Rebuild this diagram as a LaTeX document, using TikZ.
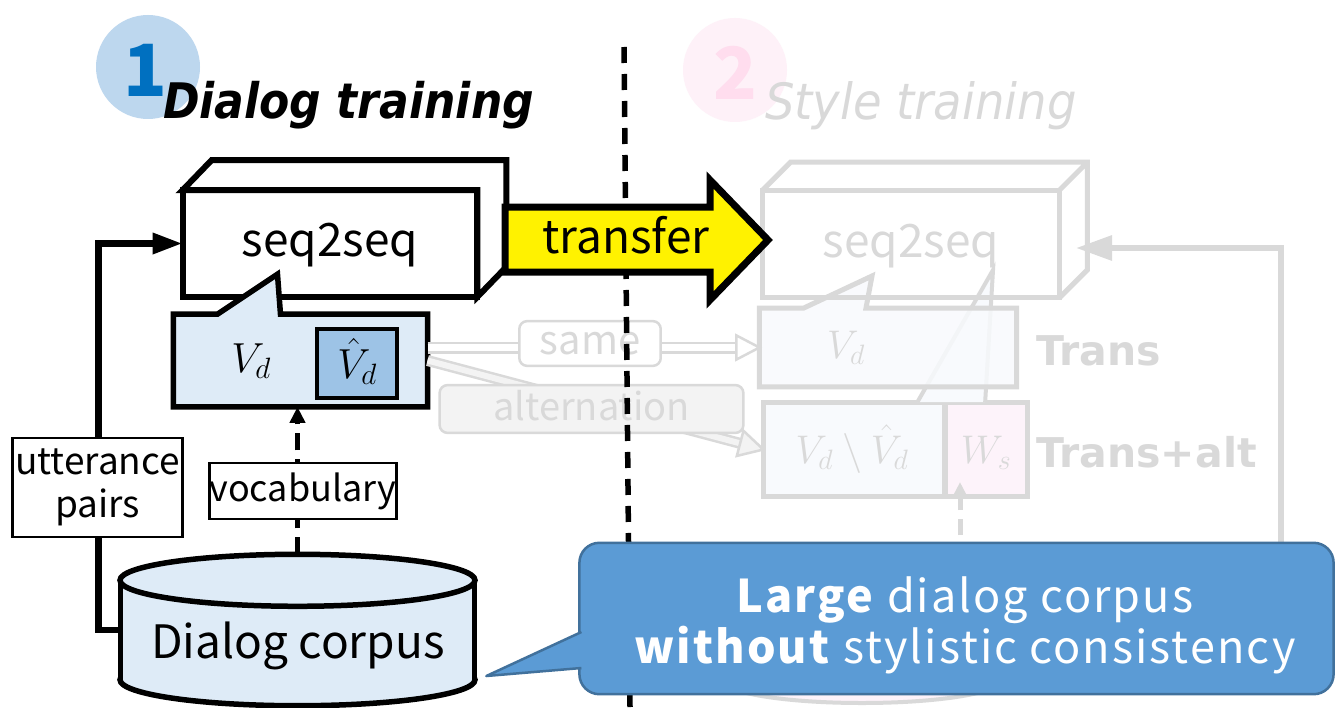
\RequirePackage{fix-cm}
\documentclass[tikz,border=0pt]{standalone}
\usepackage{fontspec}
\usetikzlibrary{arrows.meta,calc}

\newfontfamily\jpf{Noto Sans CJK JP}
\newfontfamily\jpwide[LetterSpace=4.5]{Noto Sans CJK JP}
\newfontfamily\ttl[FakeStretch=0.9]{DejaVu Sans}
\newfontfamily\ttlb[FakeStretch=0.93]{DejaVu Sans}
\newfontfamily\dvs{DejaVu Sans}
\newcommand\fsz[1]{\fontsize{#1bp}{#1bp}\selectfont}
\newcommand\fszskip[2]{\fontsize{#1bp}{#2bp}\selectfont}

\definecolor{lblue}{HTML}{DEEBF7}
\definecolor{mblue}{HTML}{9DC3E6}
\definecolor{cblue}{HTML}{BDD7EE}
\definecolor{dblue}{HTML}{0070C0}
\definecolor{fade}{HTML}{D9D9D9}
\definecolor{fadeblue}{HTML}{F8FAFD}
\definecolor{fadepink}{HTML}{FDF3FA}
\definecolor{pinkc}{HTML}{FEF1F8}
\definecolor{pinkd}{HTML}{FFDDEE}
\definecolor{callfill}{HTML}{5B9BD5}
\definecolor{calledge}{HTML}{41719C}
\definecolor{altfill}{HTML}{F3F3F3}

\tikzset{
  hole/.style={inner sep=0pt, outer sep=0pt},
  txt/.style={inner sep=0pt, outer sep=0pt},
  frontbox/.style={draw=black, line width=6bp, fill=white, inner sep=0pt, outer sep=0pt,
    font=\jpf\fsz{46}, text height=35bp, text depth=9bp},
  gfront/.style={draw=fade, line width=5bp, inner sep=0pt, outer sep=0pt, text=fade,
    font=\jpf\fsz{46}, text height=35bp, text depth=9bp},
  lab/.style={draw=black, line width=2.5bp, fill=white, inner sep=0pt, outer sep=0pt,
    font=\jpf\fsz{36}, text height=28bp, text depth=7bp},
  glab/.style={draw=fade, line width=2.5bp, rounded corners=8bp, inner sep=0pt, outer sep=0pt,
    text=fade, text height=30bp, text depth=8bp},
  gline/.style={draw=fade, line width=6bp},
  gedge/.style={draw=fade, line width=5bp},
  bedge/.style={draw=black, line width=5.5bp},
}

\begin{document}
\begin{tikzpicture}[x=1bp, y=-1bp, line join=miter]
\useasboundingbox (0,0) rectangle (1337,707);
\fill[white] (0,0) rectangle (1337,707);

% ---------- headings ----------
\fill[cblue] (148,67) circle[radius=52];
\node[txt, anchor=base, font=\jpf\bfseries\fsz{72}, text=dblue] (numone) at (145,97) {1};
\node[txt, anchor=base west, font=\ttl\bfseries\itshape\fsz{49}] (headone) at (163,119) {Dialog training};

\fill[pinkc] (735,70) circle[radius=52];
\node[txt, anchor=base, font=\jpf\bfseries\fsz{72}, text=pinkd] (numtwo) at (735,100) {2};
\node[txt, anchor=base west, font=\ttlb\itshape\fsz{50}, text=fade] (headtwo) at (765,120) {Style training};

% ---------- style training side (faded) ----------
% hidden style corpus, only its lower rim shows
\filldraw[gedge, line width=4bp, fill=fadepink] (862,680) ellipse[x radius=140, y radius=23];

% Trans+alt vocabulary
\node[hole, draw=fade, line width=5bp, fill=fadeblue, minimum width=182, minimum height=95] (vdiff) at (854,449.5) {};
\node[hole, draw=fade, line width=5bp, fill=fadepink, minimum width=83, minimum height=95] (ws) at (986.5,449.5) {};
\filldraw[gedge, line width=4bp, fill=fadeblue] ($(vdiff.north west)+(154,0)$) -- (993,270) -- ($(ws.north west)+(40,0)$);
\node[txt, anchor=base, text=fade, font=\fsz{40}] (vdifftxt) at (852,463) {$V_d\setminus\hat{V}_d$};
\node[txt, anchor=base, text=fade, font=\fsz{40}] (wstxt) at (986,463) {$W_s$};

% Trans vocabulary (callout)
\node[hole, minimum width=258, minimum height=79] (trans) at (888,347.5) {};
\filldraw[gedge, fill=fadeblue, fill opacity=0.85] (trans.north west) -- ++(44,0) -- (872,276) -- ++(-6,32)
  -- (trans.north east) -- (trans.south east) -- (trans.south west) -- cycle;
\node[txt, anchor=base, text=fade, font=\fsz{40}] (transtxt) at (846,358) {$V_d$};

\node[txt, anchor=base west, text=fade, font=\dvs\bfseries\fsz{41}] (tlab) at (1036,365) {Trans};
\node[txt, anchor=base west, text=fade, font=\dvs\bfseries\fsz{41}] (talab) at (1036,467) {Trans+alt};

% faded seq2seq box
\node[gfront, minimum width=298, minimum height=108] (s2sB) at (911,244) {seq2seq};
\draw[gedge] (s2sB.north west) -- ++(28,-28) -- ($(s2sB.north east)+(28,-28)$) -- ($(s2sB.south east)+(28,-28)$)
  -- (s2sB.south east) (s2sB.north east) -- ++(28,-28);

% feedback from the style corpus
\coordinate (fbstart) at (1281,600);
\coordinate (fbend) at (1076,248);
\draw[gline, -{Triangle[length=36bp,width=24bp]}] (fbstart) -- (fbstart |- fbend) -- (fbend);
\coordinate (wsfrom) at (960,560);
\coordinate (wsto) at (960,482);
\draw[gedge, dash pattern=on 16bp off 9bp, -{Triangle[length=16bp,width=15bp]}] (wsfrom) -- (wsto);

% ---------- Dialog training side ----------
\node[frontbox, minimum width=296, minimum height=107] (s2s) at (330,243.5) {seq2seq};
\draw[draw=black, line width=6bp, fill=white] (s2s.north west) -- ++(29,-30) -- ($(s2s.north east)+(29,-30)$)
  -- ($(s2s.south east)+(29,-30)$) -- (s2s.south east) -- (s2s.north east) -- cycle;

% vocabulary callout pointing into seq2seq
\node[hole, minimum width=255, minimum height=93] (vdbox) at (300.5,360.5) {};
\filldraw[bedge, fill=lblue] (vdbox.north west) -- ++(44,0) -- ++(60,-40) -- ++(3,40)
  -- (vdbox.north east) -- (vdbox.south east) -- (vdbox.south west) -- cycle;
\node[txt, anchor=base, font=\fsz{42}] (vdtxt) at (251,372) {$V_d$};
\node[draw=black, line width=3.5bp, fill=mblue, inner sep=0pt, outer sep=0pt, minimum width=80, minimum height=69] (vhat) at (357,363.5) {};
\node[txt, anchor=base, font=\fsz{42}] (vhattxt) at (357,378) {$\hat{V}_d$};

% "same" and "alternation" transfers
\coordinate (samefrom) at (vdbox.east |- trans.west);
\coordinate (sameto) at (trans.west);
\coordinate (samehead) at ($(sameto)+(-23,0)$);
\draw[draw=fade, double=white, double distance=7bp, line width=2.5bp] (samefrom) -- (samehead);
\filldraw[draw=fade, line width=2.5bp, fill=white] ($(samehead)+(0,-12)$) -- (sameto) -- ($(samehead)+(0,12)$) -- cycle;
\node[glab, fill=white, minimum width=142, minimum height=45, font=\jpf\fsz{40}] (same) at (590,343.5) {same};

\coordinate (altfrom) at (vdbox.east);
\coordinate (altto) at (vdiff.west);
\coordinate (althead) at ($(altto)!24bp!(altfrom)$);
\draw[draw=fade, double=altfill, double distance=6bp, line width=2.5bp] (altfrom) -- (althead);
\filldraw[draw=fade, line width=2.5bp, fill=altfill] ($(althead)!13bp!90:(altfrom)$) -- (altto) -- ($(althead)!13bp!-90:(altfrom)$) -- cycle;
\node[glab, fill=altfill, minimum width=305, minimum height=48, font=\jpf\fsz{38}] (alt) at (591.5,409) {alternation};

% dialog corpus cylinder
\node[hole, minimum width=355, minimum height=152] (corpus) at (297.5,630) {};
\filldraw[bedge, fill=lblue] ($(corpus.south)+(0,-26)$) ellipse[x radius=177.5, y radius=26];
\fill[lblue] ($(corpus.north west)+(0,26)$) rectangle ($(corpus.south east)+(0,-26)$);
\draw[bedge] ($(corpus.north west)+(0,26)$) -- ($(corpus.south west)+(0,-26)$)
             ($(corpus.north east)+(0,26)$) -- ($(corpus.south east)+(0,-26)$);
\filldraw[bedge, fill=lblue] ($(corpus.north)+(0,26)$) ellipse[x radius=177.5, y radius=26];
\node[txt, anchor=base, font=\jpf\fsz{46}] (corpustxt) at (298,658) {Dialog corpus};

% utterance pairs -> seq2seq
\draw[draw=black, line width=6.5bp, -{Triangle[length=30bp,width=20bp]}] (corpus.west) -- ++(-22,0) |- (s2s.west);
\node[draw=black, line width=2.5bp, fill=white, inner sep=0pt, outer sep=0pt, minimum width=171, minimum height=99,
  align=center, font=\jpf\fszskip{37}{43}] (utt) at (97.5,487.5) {utterance\\pairs};

% vocabulary -> V_d
\draw[draw=black, line width=5.5bp, dash pattern=on 17bp off 9bp, -{Triangle[length=16bp,width=15bp]}]
  (corpus.north) -- (corpus.north |- vdbox.south);
\node[lab, minimum width=188, minimum height=56] (voc) at (303,491) {vocabulary};

% ---------- phase divider ----------
\coordinate (divtop) at (624,47);
\coordinate (divbot) at (630,707);
\draw[line width=5.5bp, dash pattern=on 16bp off 11bp] (divtop) -- (divbot);

% ---------- transfer arrow ----------
\filldraw[draw=black, line width=7bp, fill=yellow] (505,207) -- (710,207) -- (710,180) -- (768,240)
  -- (710,300) -- (710,272) -- (505,272) -- cycle;
\node[txt, anchor=base, font=\jpf\fsz{46}] (xfer) at (626,253) {transfer};

% ---------- note ----------
\node[hole, rounded corners=20bp, fill=callfill, draw=calledge, line width=2.5bp,
  minimum width=757, minimum height=152] (note) at (956.5,618.5) {};
\coordinate (notetip) at ($(corpus.east)+(12,46)$);
\filldraw[fill=callfill, draw=calledge, line width=2.5bp, line join=round]
  ($(note.west)+(2,13.5)$) -- (notetip) -- ($(note.west)+(2,49.5)$);
\node[txt, anchor=base, text=white, font=\jpwide\fsz{45}] (noteone) at (965,612) {\textbf{Large} dialog corpus};
\node[txt, anchor=base, text=white, font=\jpwide\fsz{45}] (notetwo) at (965,663) {\textbf{without} stylistic consistency};
\end{tikzpicture}
\end{document}
